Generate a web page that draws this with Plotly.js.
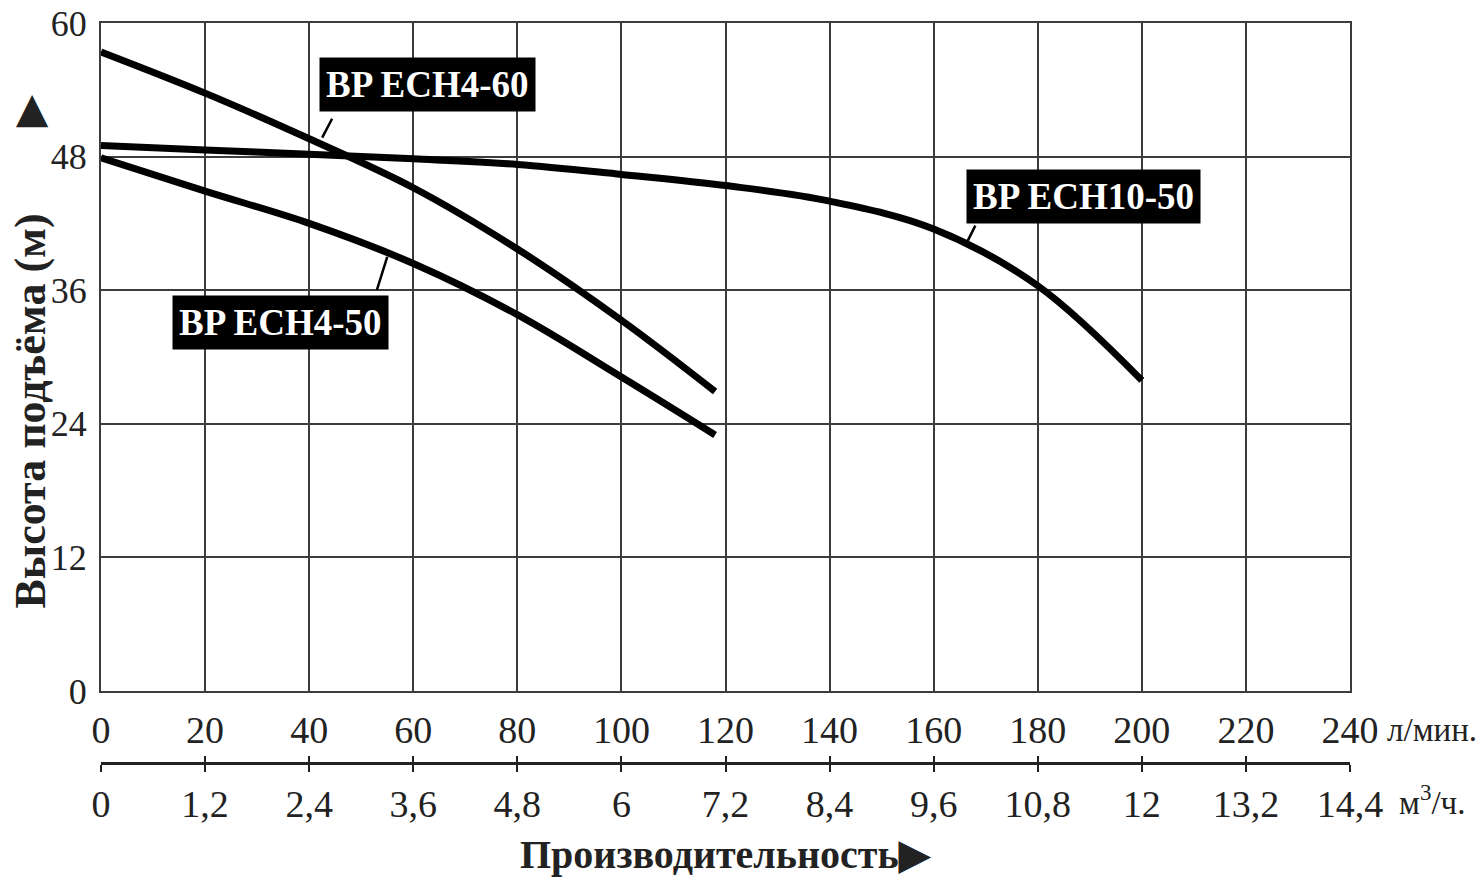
<!DOCTYPE html>
<html>
<head>
<meta charset="utf-8">
<script src="https://cdn.plot.ly/plotly-3.0.1.min.js"></script>
<style>
  html, body { margin: 0; padding: 0; background: #fff; }
  #chart { width: 1480px; height: 892px; }
</style>
</head>
<body>
<div id="chart"></div>
<script>
// ---- Data ----
// Flow, l/min  ->  head, m
const flowECH4_60 = [0, 20, 40, 60, 80, 100, 118];
const headECH4_60 = [57.4, 53.7, 49.6, 45.2, 39.7, 33.3, 26.9];

const flowECH4_50 = [0, 20, 40, 60, 80, 100, 118];
const headECH4_50 = [47.9, 44.9, 42.0, 38.4, 33.8, 28.2, 23.0];

const flowECH10_50 = [0, 20, 40, 60, 80, 100, 120, 140, 160, 180, 200];
const headECH10_50 = [49.0, 48.6, 48.2, 47.8, 47.3, 46.4, 45.4, 44.0, 41.5, 36.4, 27.9];

const seriesNames = ["BP ECH4-60", "BP ECH4-50", "BP ECH10-50"];

// Tick labels
const lminTicks = [0, 20, 40, 60, 80, 100, 120, 140, 160, 180, 200, 220, 240];
const headTicks = [0, 12, 24, 36, 48, 60];
const m3Ticks = [0, 1.2, 2.4, 3.6, 4.8, 6, 7.2, 8.4, 9.6, 10.8, 12, 13.2, 14.4];
const m3TickText = ["0", "1,2", "2,4", "3,6", "4,8", "6", "7,2", "8,4", "9,6", "10,8", "12", "13,2", "14,4"];

const yTitle = "Высота подъёма (м)";
const arrowGlyph = "\u25B6";
const xTitle = "Производительность\u25B6";
const unitLmin = "л/мин.";
const unitM3 = "м<sup>3</sup>/ч.";

// ---- Styles ----
const FONT = "Liberation Serif, Times New Roman, serif";
const curveLine = { color: "#000", width: 7, shape: "spline", smoothing: 1 };

const traces = [
  { x: flowECH4_60, y: headECH4_60, name: seriesNames[0], mode: "lines", line: curveLine, xaxis: "x", yaxis: "y" },
  { x: flowECH4_50, y: headECH4_50, name: seriesNames[1], mode: "lines", line: curveLine, xaxis: "x", yaxis: "y" },
  { x: flowECH10_50, y: headECH10_50, name: seriesNames[2], mode: "lines", line: curveLine, xaxis: "x", yaxis: "y" },
  // carriers for the secondary (m3/h) axis
  { x: m3Ticks, y: m3Ticks.map(() => null), mode: "lines", xaxis: "x2", yaxis: "y", hoverinfo: "skip", showlegend: false },
  { x: m3Ticks, y: m3Ticks.map(() => null), mode: "lines", xaxis: "x3", yaxis: "y", hoverinfo: "skip", showlegend: false }
];

const labelFont = { family: FONT, size: 37, color: "#fff" };
function boxLabel(text, x, y) {
  return {
    x: x, y: y, xref: "x", yref: "y",
    text: "<b>" + text + "</b>", showarrow: false,
    font: labelFont, bgcolor: "#000", borderpad: 6,
    xanchor: "center", yanchor: "middle"
  };
}
function leader(x0, y0, x1, y1) {
  return { type: "line", xref: "x", yref: "y", x0: x0, y0: y0, x1: x1, y1: y1,
           line: { color: "#000", width: 2.5 } };
}

const layout = {
  width: 1480, height: 892,
  margin: { l: 101, r: 130, t: 23, b: 129 },
  paper_bgcolor: "#fff", plot_bgcolor: "#fff",
  showlegend: false,
  font: { family: FONT, color: "#222" },
  xaxis: {
    range: [0, 240], tickvals: lminTicks, ticktext: lminTicks.map(String),
    showgrid: true, gridcolor: "#3c3c3c", gridwidth: 2,
    zeroline: false, showline: true, mirror: true, linecolor: "#3c3c3c", linewidth: 2,
    ticks: "", ticklabelstandoff: 4,
    tickfont: { family: FONT, size: 38, color: "#222" },
    anchor: "y", fixedrange: true
  },
  yaxis: {
    range: [0, 60], tickvals: headTicks, ticktext: headTicks.map(String),
    domain: [0.0973, 1],
    showgrid: true, gridcolor: "#3c3c3c", gridwidth: 2,
    zeroline: false, showline: true, mirror: true, linecolor: "#3c3c3c", linewidth: 2,
    ticks: "", ticklabelstandoff: 5,
    tickfont: { family: FONT, size: 36, color: "#222" },
    fixedrange: true
  },
  xaxis2: {
    overlaying: "x", anchor: "free", position: 0, side: "bottom",
    range: [0, 14.4], tickvals: m3Ticks, ticktext: m3TickText,
    showgrid: false, zeroline: false, showline: true, linecolor: "#222", linewidth: 2.5,
    ticks: "outside", ticklen: 7, tickwidth: 2, tickcolor: "#222",
    ticklabelstandoff: 0,
    tickfont: { family: FONT, size: 38, color: "#222" },
    fixedrange: true
  },
  xaxis3: {
    overlaying: "x", anchor: "free", position: 0, side: "bottom",
    range: [0, 14.4], tickvals: m3Ticks, showticklabels: false,
    showgrid: false, zeroline: false, showline: false,
    ticks: "inside", ticklen: 7, tickwidth: 2, tickcolor: "#222",
    fixedrange: true
  },
  annotations: [
    boxLabel(seriesNames[0], 62.8, 54.5),
    boxLabel(seriesNames[1], 34.4, 33.1),
    boxLabel(seriesNames[2], 188.7, 44.4),
    { xref: "paper", yref: "paper", x: -0.0568, y: 0.475, xanchor: "center", yanchor: "middle",
      text: "<b>" + yTitle + "</b>", textangle: -90, showarrow: false,
      font: { family: FONT, size: 44, color: "#222" } },
    { xref: "paper", yref: "paper", x: -0.0585, y: 0.882, xanchor: "center", yanchor: "middle",
      text: arrowGlyph, textangle: -90, showarrow: false,
      font: { family: "DejaVu Sans, sans-serif", size: 42, color: "#222" } },
    { xref: "paper", yref: "paper", x: 0.5, y: -0.124, xanchor: "center", yanchor: "middle",
      text: "<b>" + xTitle + "</b>", showarrow: false,
      font: { family: FONT, size: 40, color: "#222" } },
    { xref: "paper", yref: "paper", x: 1.028, y: 0.045, xanchor: "left", yanchor: "middle",
      text: unitLmin, showarrow: false, font: { family: FONT, size: 33, color: "#222" } },
    { xref: "paper", yref: "paper", x: 1.038, y: -0.05, xanchor: "left", yanchor: "middle",
      text: unitM3, showarrow: false, font: { family: FONT, size: 33, color: "#222" } }
  ],
  shapes: [
    leader(44.4, 51.4, 42.5, 49.7),
    leader(53.0, 36.0, 55.0, 39.0),
    leader(166.4, 40.3, 168.0, 41.8)
  ]
};

Plotly.newPlot("chart", traces, layout, { staticPlot: true, displayModeBar: false });
</script>
</body>
</html>
